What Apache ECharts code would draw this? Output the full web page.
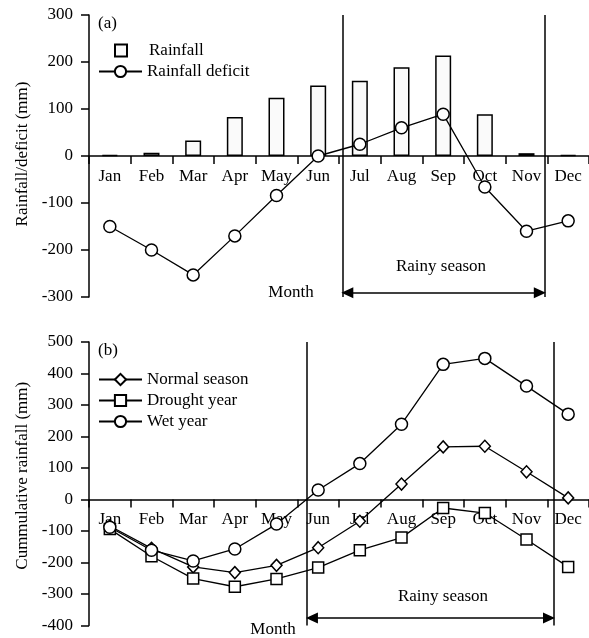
<!DOCTYPE html>
<html>
<head>
<meta charset="utf-8">
<script src="https://cdn.jsdelivr.net/npm/echarts@6/dist/echarts.min.js"></script>
<style>html,body{margin:0;padding:0;background:#fff;}#c{width:589px;height:638px;}</style>
</head>
<body>
<div id="c"></div>
<script>
// ---- data ----
const months = ['Jan','Feb','Mar','Apr','May','Jun','Jul','Aug','Sep','Oct','Nov','Dec'];
const rainfall = [2, 7, 33, 83, 124, 150, 160, 189, 214, 89, 6, 2];
const rainfallDeficit = [-150, -200, -253, -170, -84, 0, 25, 60, 89, -66, -160, -138];
const normalSeason = [-84, -155, -214, -232, -209, -153, -69, 49, 167, 169, 88, 5];
const droughtYear = [-94, -180, -251, -277, -252, -216, -161, -121, -27, -43, -127, -214];
const wetYear = [-88, -161, -195, -157, -78, 30, 114, 239, 429, 448, 360, 271];
const yTicksA = [-300, 300];
const yTicksB = [-400, 500];
// rainy season boundaries (in month-index units along the axis)
const rainyA = [6.08, 10.94];
const rainyB = [5.23, 11.16];

const FONT = 'Liberation Serif';
const chart = echarts.init(document.getElementById('c'));

const gridA = {left:89, top:15, width:500, height:282};
const gridB = {left:89, top:342, width:500, height:283.5};

function catAxis(gi, range, h){
  // place the category axis on the zero line of the value axis
  const off = -(0 - range[0]) / (range[1] - range[0]) * h;
  return {
    type:'category', gridIndex:gi, data:months, boundaryGap:true, position:'bottom',
    offset: off,
    axisLine:{onZero:false, lineStyle:{color:'#000', width:1.5}},
    axisTick:{show:true, length:8, lineStyle:{color:'#000', width:1.5}},
    axisLabel:{color:'#000', fontFamily:FONT, fontSize:17, margin:12},
    splitLine:{show:false}
  };
}
function valAxis(gi, range, name, namePad){
  return {
    type:'value', gridIndex:gi, min:range[0], max:range[1], interval:100,
    name:name, nameLocation:'middle', nameGap:57,
    nameTextStyle:{color:'#000', fontFamily:FONT, fontSize:17, padding:namePad},
    axisLine:{show:true, lineStyle:{color:'#000', width:1.5}},
    axisTick:{show:true, length:8, lineStyle:{color:'#000', width:1.5}},
    axisLabel:{color:'#000', fontFamily:FONT, fontSize:17, margin:16},
    splitLine:{show:false}
  };
}
function helperX(gi){
  return {type:'value', gridIndex:gi, min:0, max:12, show:false};
}
const lineStyleBlack = {color:'#000', width:1.3};
function rainyMarks(xi, yi, r, range, arrowY){
  return {
    type:'line', xAxisIndex:xi, yAxisIndex:yi, data:[], silent:true, clip:false,
    markLine:{
      silent:true, animation:false, symbol:'none',
      label:{show:false},
      lineStyle:{color:'#000', width:1.5, type:'solid'},
      data:[
        [{coord:[r[0], range[1]]},{coord:[r[0], range[0]]}],
        [{coord:[r[1], range[1]]},{coord:[r[1], range[0]]}],
        [{coord:[r[0]+0.12, arrowY], symbol:'triangle', symbolSize:[11,12]},
         {coord:[r[1]-0.12, arrowY], symbol:'triangle', symbolSize:[11,12]}]
      ]
    }
  };
}

const option = {
  backgroundColor:'#fff',
  animation:false,
  grid:[gridA, gridB],
  xAxis:[catAxis(0, yTicksA, gridA.height), catAxis(1, yTicksB, gridB.height), helperX(0), helperX(1)],
  yAxis:[
    valAxis(0, yTicksA, 'Rainfall/deficit (mm)', [0,0,0,4]),
    valAxis(1, yTicksB, 'Cummulative rainfall (mm)', [0,0,0,16])
  ],
  legend:[
    {data:[{name:'Rainfall', icon:'rect'}], left:114, top:42, padding:0, itemWidth:12, itemHeight:12,
     textStyle:{color:'#000', fontFamily:FONT, fontSize:17, padding:[0,0,0,17]}},
    {data:['Rainfall deficit'], left:98, top:63, padding:0, itemWidth:43, itemHeight:14,
     textStyle:{color:'#000', fontFamily:FONT, fontSize:17}},
    {data:['Normal season','Drought year','Wet year'], orient:'vertical', left:98, top:371, padding:0,
     itemWidth:43, itemHeight:14, itemGap:4,
     textStyle:{color:'#000', fontFamily:FONT, fontSize:17}}
  ],
  series:[
    {name:'Rainfall', type:'bar', xAxisIndex:0, yAxisIndex:0, data:rainfall, barWidth:16,
     itemStyle:{color:'#fafafa', borderColor:'#000', borderWidth:1.5}},
    {name:'Rainfall deficit', type:'line', xAxisIndex:0, yAxisIndex:0, data:rainfallDeficit,
     symbol:'circle', symbolSize:12, lineStyle:lineStyleBlack,
     itemStyle:{color:'#fff', borderColor:'#000', borderWidth:1.5}, z:3},
    {name:'Normal season', type:'line', xAxisIndex:1, yAxisIndex:1, data:normalSeason,
     symbol:'diamond', symbolSize:[11,12], lineStyle:lineStyleBlack,
     itemStyle:{color:'#fff', borderColor:'#000', borderWidth:1.5}},
    {name:'Drought year', type:'line', xAxisIndex:1, yAxisIndex:1, data:droughtYear,
     symbol:'rect', symbolSize:11, lineStyle:lineStyleBlack,
     itemStyle:{color:'#fff', borderColor:'#000', borderWidth:1.5}},
    {name:'Wet year', type:'line', xAxisIndex:1, yAxisIndex:1, data:wetYear,
     symbol:'circle', symbolSize:12, lineStyle:lineStyleBlack,
     itemStyle:{color:'#fff', borderColor:'#000', borderWidth:1.5}},
    rainyMarks(2, 0, rainyA, yTicksA, -291),
    rainyMarks(3, 1, rainyB, yTicksB, -376)
  ],
  graphic:[
    {type:'text', left:98, top:15, style:{text:'(a)', fill:'#000', font:'17px "Liberation Serif"'}},
    {type:'text', left:98, top:342, style:{text:'(b)', fill:'#000', font:'17px "Liberation Serif"'}},
    {type:'text', x:291, y:293, style:{text:'Month', fill:'#000', font:'17px "Liberation Serif"', align:'center', verticalAlign:'middle'}},
    {type:'text', x:273, y:630, style:{text:'Month', fill:'#000', font:'17px "Liberation Serif"', align:'center', verticalAlign:'middle'}},
    {type:'text', x:441, y:267, style:{text:'Rainy season', fill:'#000', font:'17px "Liberation Serif"', align:'center', verticalAlign:'middle'}},
    {type:'text', x:443, y:597, style:{text:'Rainy season', fill:'#000', font:'17px "Liberation Serif"', align:'center', verticalAlign:'middle'}}
  ]
};
chart.setOption(option);
</script>
</body>
</html>
